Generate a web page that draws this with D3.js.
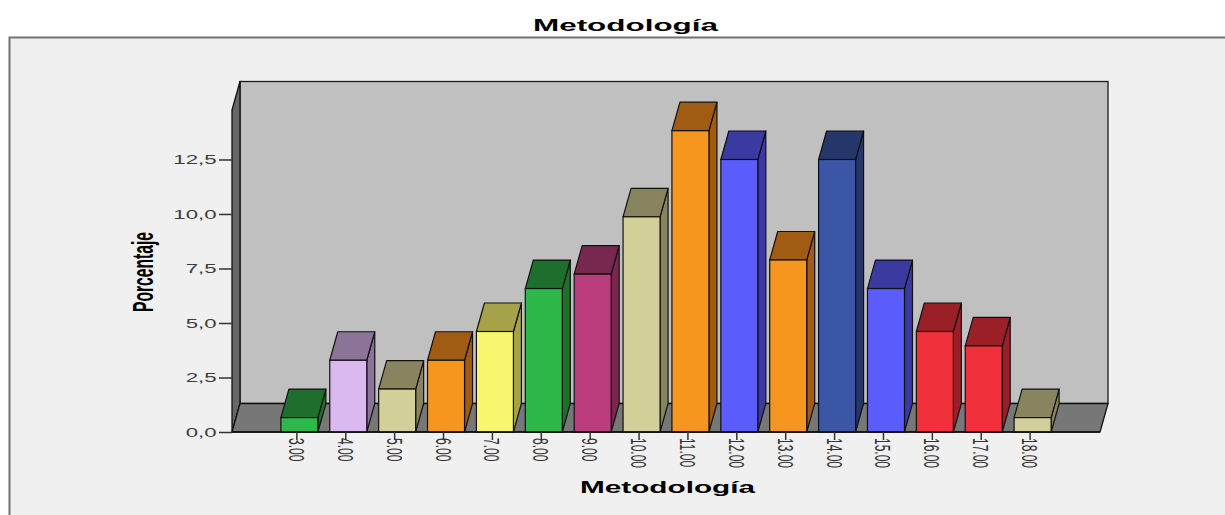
<!DOCTYPE html>
<html>
<head>
<meta charset="utf-8">
<script src="https://cdn.jsdelivr.net/npm/d3@7"></script>
<style>
  html, body { margin: 0; padding: 0; background: #ffffff; }
  svg { display: block; }
  text { font-family: "Liberation Sans", Arial, sans-serif; }
</style>
</head>
<body>
<svg id="chart" width="1225" height="515"></svg>
<script>
// Categories of the "Metodología" score and the percentage of cases in each
const categories = ["3.00", "4.00", "5.00", "6.00", "7.00", "8.00", "9.00", "10.00",
                    "11.00", "12.00", "13.00", "14.00", "15.00", "16.00", "17.00", "18.00"];
const percentages = [0.66, 3.29, 1.97, 3.29, 4.61, 6.58, 7.24, 9.87,
                     13.82, 12.50, 7.89, 12.50, 6.58, 4.61, 3.95, 0.66];
const yTickValues = [0, 2.5, 5, 7.5, 10, 12.5];
const yDomainMax = 14.77;

// Bar palette: front face and the shaded top/side faces
const frontColors = ["#2fb84a", "#dcb8f0", "#d3cf98", "#f7961f", "#faf56f", "#2fb84a", "#bc3d7d", "#d3cf98",
                     "#f7961f", "#5b5cfc", "#f7961f", "#3b56a6", "#5b5cfc", "#f0303a", "#f0303a", "#d3cf98"];
const shadeColors = ["#1e6e2e", "#8c7398", "#88845f", "#9f5c12", "#a5a24a", "#1e6e2e", "#78274f", "#88845f",
                     "#9f5c12", "#3a3aa0", "#9f5c12", "#25366a", "#3a3aa0", "#9a1f26", "#9a1f26", "#88845f"];

const svg = d3.select("#chart");

// Geometry of the pseudo-3D plot box
const boxLeft = 232, boxRight = 1100, boxBottom = 432, boxTop = 110;
const depthX = 8, depthY = -28.5;
const textStretch = 1.85;

const x = d3.scaleBand().domain(categories).range([boxLeft, boxRight])
  .paddingInner(0.243).paddingOuter(1.0);
const y = d3.scaleLinear().domain([0, yDomainMax]).range([boxBottom, boxTop]);

const commaLocale = d3.formatLocale({decimal: ",", thousands: ".", grouping: [3], currency: ["", ""]});
const fmt = commaLocale.format(".1f");

// Outer panel
svg.append("rect")
  .attr("x", 9.5).attr("y", 37.5).attr("width", 1240).attr("height", 500)
  .attr("fill", "#f0f0f0").attr("stroke", "#727272").attr("stroke-width", 2);

// Title
svg.append("text")
  .attr("x", 533).attr("y", 31)
  .attr("font-size", 17).attr("font-weight", "bold").attr("fill", "#000")
  .attr("textLength", 185).attr("lengthAdjust", "spacingAndGlyphs")
  .text("Metodología");

const plot = svg.append("g");

// Back wall
plot.append("rect")
  .attr("x", boxLeft + depthX).attr("y", boxTop + depthY)
  .attr("width", boxRight - boxLeft).attr("height", boxBottom - boxTop)
  .attr("fill", "#c0c0c0").attr("stroke", "#1a1a1a").attr("stroke-width", 1.3);

// Left wall
plot.append("polygon")
  .attr("points", [[boxLeft, boxBottom], [boxLeft, boxTop], [boxLeft + depthX, boxTop + depthY],
                   [boxLeft + depthX, boxBottom + depthY]].join(" "))
  .attr("fill", "#666666").attr("stroke", "#111").attr("stroke-width", 1.3)
  .attr("stroke-linejoin", "round");

// Floor
plot.append("polygon")
  .attr("points", [[boxLeft, boxBottom], [boxRight, boxBottom], [boxRight + depthX, boxBottom + depthY],
                   [boxLeft + depthX, boxBottom + depthY]].join(" "))
  .attr("fill", "#777777").attr("stroke", "#111").attr("stroke-width", 1.3)
  .attr("stroke-linejoin", "round");

// Bars
const bw = x.bandwidth();
const bars = plot.selectAll("g.bar")
  .data(categories.map((c, i) => ({cat: c, value: percentages[i], i})))
  .join("g").attr("class", "bar");

bars.append("polygon") // side face
  .attr("points", d => {
    const x0 = x(d.cat) + bw, yt = y(d.value);
    return [[x0, yt], [x0 + depthX, yt + depthY], [x0 + depthX, boxBottom + depthY], [x0, boxBottom]].join(" ");
  })
  .attr("fill", d => shadeColors[d.i]).attr("stroke", "#111").attr("stroke-width", 1.2)
  .attr("stroke-linejoin", "round");

bars.append("polygon") // top face
  .attr("points", d => {
    const x0 = x(d.cat), yt = y(d.value);
    return [[x0, yt], [x0 + bw, yt], [x0 + bw + depthX, yt + depthY], [x0 + depthX, yt + depthY]].join(" ");
  })
  .attr("fill", d => shadeColors[d.i]).attr("stroke", "#111").attr("stroke-width", 1.2)
  .attr("stroke-linejoin", "round");

bars.append("rect") // front face
  .attr("x", d => x(d.cat)).attr("y", d => y(d.value))
  .attr("width", bw).attr("height", d => boxBottom - y(d.value))
  .attr("fill", d => frontColors[d.i]).attr("stroke", "#111").attr("stroke-width", 1.2);

// Front floor edge
plot.append("line")
  .attr("x1", boxLeft).attr("x2", boxRight).attr("y1", boxBottom).attr("y2", boxBottom)
  .attr("stroke", "#111").attr("stroke-width", 1.5);

// Y axis
const yAxis = svg.append("g")
  .attr("transform", `translate(${boxLeft},0)`)
  .call(d3.axisLeft(y).tickValues(yTickValues).tickSize(13).tickFormat(fmt));
yAxis.select(".domain").remove();
yAxis.selectAll(".tick line").attr("stroke", "#333").attr("stroke-width", 1.5);
yAxis.selectAll(".tick text")
  .attr("x", -15.5 / textStretch).attr("dy", "0.36em")
  .attr("transform", `scale(${textStretch},1)`)
  .attr("font-size", 12).attr("fill", "#3c3c3c")
  .attr("font-family", "Liberation Sans, Arial, sans-serif");

// X axis with vertical labels
const xAxis = svg.append("g")
  .attr("transform", `translate(-2.5,${boxBottom})`)
  .call(d3.axisBottom(x).tickSize(8));
xAxis.select(".domain").remove();
xAxis.selectAll(".tick line").attr("stroke", "#333").attr("stroke-width", 1.5);
xAxis.selectAll(".tick text")
  .attr("x", 0).attr("y", 0).attr("dy", "0.36em")
  .attr("text-anchor", "start")
  .attr("transform", `translate(0,6) scale(${textStretch},1) rotate(90)`)
  .attr("font-size", 12).attr("fill", "#333")
  .attr("font-family", "Liberation Sans, Arial, sans-serif");

// Axis titles
svg.append("text")
  .attr("x", 580).attr("y", 493)
  .attr("font-size", 17).attr("font-weight", "bold").attr("fill", "#000")
  .attr("textLength", 175).attr("lengthAdjust", "spacingAndGlyphs")
  .text("Metodología");

svg.append("text")
  .attr("transform", `translate(153,272) scale(1.9,1) rotate(-90)`)
  .attr("text-anchor", "middle")
  .attr("font-size", 16).attr("font-weight", "bold").attr("fill", "#000")
  .attr("textLength", 80).attr("lengthAdjust", "spacingAndGlyphs")
  .text("Porcentaje");
</script>
</body>
</html>
